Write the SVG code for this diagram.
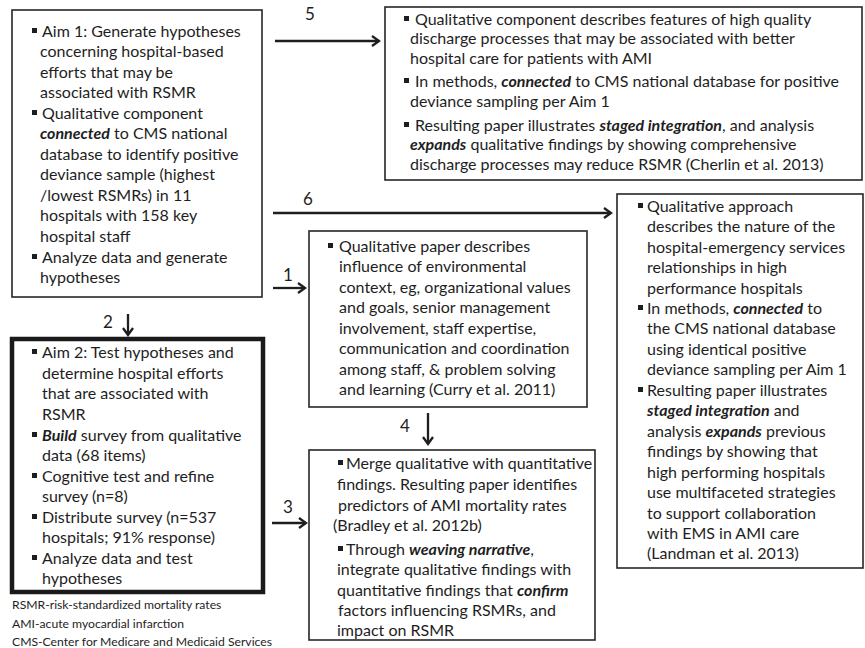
<svg xmlns="http://www.w3.org/2000/svg" width="865" height="648" viewBox="0 0 865 648">
<defs>
<style>
text{font-family:Lato,"Open Sans","Liberation Sans",sans-serif;font-size:16px;fill:#1e1e1e}
.fn{font-size:12.2px}
.lbl{font-size:17px}
.bi{font-weight:bold;font-style:italic}
.box{fill:#fff;stroke:#262626;stroke-width:1.6}
.thick{fill:#fff;stroke:#1a1a1a;stroke-width:4.5}
.b{fill:#1e1e1e}
.arr{fill:none;stroke:#1e1e1e;stroke-width:2.3;marker-end:url(#ah)}
</style>
<marker id="ah" markerUnits="userSpaceOnUse" markerWidth="14" markerHeight="14" refX="10" refY="7" orient="auto">
<path d="M3,2 L10,7 L3,12" fill="none" stroke="#1e1e1e" stroke-width="2.3"/>
</marker>
</defs>

<g id="connectors">
<line class="arr" x1="275" y1="41" x2="379" y2="41"/>
<text class="lbl" x="305" y="20">5</text>
<line class="arr" x1="273" y1="213" x2="611" y2="213"/>
<text class="lbl" x="303" y="205">6</text>
<line class="arr" x1="273" y1="288" x2="305" y2="288"/>
<text class="lbl" x="283" y="281">1</text>
<line class="arr" x1="128" y1="314" x2="128" y2="335"/>
<text class="lbl" x="103" y="328">2</text>
<line class="arr" x1="272" y1="523" x2="306" y2="523"/>
<text class="lbl" x="283" y="513">3</text>
<line class="arr" x1="428" y1="413" x2="428" y2="444"/>
<text class="lbl" x="400" y="432">4</text>
</g>

<g id="aim1">
<rect class="box" x="12" y="10" width="250" height="287"/>
<rect class="b" x="32" y="28" width="5" height="5"/>
<text x="42" y="37">Aim 1:  Generate hypotheses</text>
<text x="40" y="57">concerning hospital-based</text>
<text x="40" y="78">efforts that may be</text>
<text x="40" y="98">associated with RSMR</text>
<rect class="b" x="32" y="110" width="5" height="5"/>
<text x="42" y="119">Qualitative component</text>
<text x="40" y="139"><tspan class="bi">connected</tspan> to CMS national</text>
<text x="40" y="160">database to identify positive</text>
<text x="40" y="180">deviance sample (highest</text>
<text x="40" y="201">/lowest RSMRs) in 11</text>
<text x="40" y="221">hospitals with 158 key</text>
<text x="40" y="242">hospital staff</text>
<rect class="b" x="32" y="254" width="5" height="5"/>
<text x="42" y="263">Analyze data and generate</text>
<text x="40" y="283">hypotheses</text>
</g>

<g id="discharge">
<rect class="box" x="385" y="7" width="477" height="173"/>
<rect class="b" x="404" y="16" width="5" height="5"/>
<text x="415" y="25">Qualitative component describes features of high quality</text>
<text x="410" y="44">discharge processes that may be associated with better</text>
<text x="410" y="64">hospital care for patients with AMI</text>
<rect class="b" x="404" y="78" width="5" height="5"/>
<text x="415" y="87">In methods, <tspan class="bi">connected</tspan> to CMS national database for positive</text>
<text x="410" y="107">deviance sampling per Aim 1</text>
<rect class="b" x="404" y="122" width="5" height="5"/>
<text x="415" y="131">Resulting paper illustrates <tspan class="bi">staged integration</tspan>, and analysis</text>
<text x="410" y="150"><tspan class="bi">expands</tspan> qualitative findings by showing comprehensive</text>
<text x="410" y="170">discharge  processes may reduce RSMR (Cherlin et al. 2013)</text>
</g>

<g id="environment">
<rect class="box" x="309" y="231" width="278" height="176"/>
<rect class="b" x="328" y="243" width="5" height="5"/>
<text x="339" y="252">Qualitative paper describes</text>
<text x="339" y="272">influence of environmental</text>
<text x="339" y="293">context, eg, organizational values</text>
<text x="339" y="313">and goals, senior management</text>
<text x="339" y="334">involvement, staff expertise,</text>
<text x="339" y="354">communication and coordination</text>
<text x="339" y="375">among staff, &amp; problem solving</text>
<text x="339" y="395">and learning (Curry et al. 2011)</text>
</g>

<g id="ems">
<rect class="box" x="617" y="194" width="246" height="374"/>
<rect class="b" x="638" y="203" width="5" height="5"/>
<text x="647" y="212">Qualitative approach</text>
<text x="647" y="232">describes the nature of the</text>
<text x="647" y="253">hospital-emergency services</text>
<text x="647" y="273">relationships in high</text>
<text x="647" y="294">performance hospitals</text>
<rect class="b" x="638" y="305" width="5" height="5"/>
<text x="647" y="314">In methods, <tspan class="bi">connected</tspan> to</text>
<text x="647" y="334">the CMS national database</text>
<text x="647" y="355">using identical positive</text>
<text x="647" y="375">deviance sampling per Aim 1</text>
<rect class="b" x="638" y="387" width="5" height="5"/>
<text x="647" y="396">Resulting paper illustrates</text>
<text x="647" y="416"><tspan class="bi">staged integration</tspan> and</text>
<text x="647" y="437">analysis <tspan class="bi">expands</tspan> previous</text>
<text x="647" y="457">findings by showing that</text>
<text x="647" y="478">high performing hospitals</text>
<text x="647" y="498">use multifaceted strategies</text>
<text x="647" y="519">to support collaboration</text>
<text x="647" y="539">with EMS in AMI care</text>
<text x="647" y="559">(Landman et al. 2013)</text>
</g>

<g id="aim2">
<rect class="thick" x="12" y="339" width="251" height="253"/>
<rect class="b" x="32" y="349" width="5" height="5"/>
<text x="42" y="358">Aim 2: Test hypotheses and</text>
<text x="42" y="379">determine hospital efforts</text>
<text x="42" y="399">that are associated with</text>
<text x="42" y="420">RSMR</text>
<rect class="b" x="32" y="432" width="5" height="5"/>
<text x="42" y="441"><tspan class="bi">Build</tspan> survey from qualitative</text>
<text x="42" y="461">data (68 items)</text>
<rect class="b" x="32" y="473" width="5" height="5"/>
<text x="42" y="482">Cognitive test and refine</text>
<text x="42" y="502">survey (n=8)</text>
<rect class="b" x="32" y="514" width="5" height="5"/>
<text x="42" y="523">Distribute survey (n=537</text>
<text x="42" y="543">hospitals; 91% response)</text>
<rect class="b" x="32" y="555" width="5" height="5"/>
<text x="42" y="564">Analyze data and test</text>
<text x="42" y="584">hypotheses</text>
</g>

<g id="merge">
<rect class="box" x="309" y="450" width="286" height="190"/>
<rect class="b" x="338" y="460" width="5" height="5"/>
<text x="346" y="469">Merge qualitative with quantitative</text>
<text x="337" y="490">findings. Resulting paper identifies</text>
<text x="338" y="511">predictors of AMI mortality rates</text>
<text x="333" y="531">(Bradley et al. 2012b)</text>
<rect class="b" x="338" y="546" width="5" height="5"/>
<text x="346" y="555">Through <tspan class="bi">weaving narrative</tspan>,</text>
<text x="337" y="575">integrate qualitative findings with</text>
<text x="337" y="596">quantitative findings that <tspan class="bi">confirm</tspan></text>
<text x="338" y="616">factors influencing RSMRs, and</text>
<text x="337" y="636">impact on RSMR</text>
</g>

<g id="legend">
<text class="fn" x="12" y="609">RSMR-risk-standardized mortality rates</text>
<text class="fn" x="12" y="628">AMI-acute myocardial infarction</text>
<text class="fn" x="12" y="646">CMS-Center for Medicare and Medicaid Services</text>
</g>
</svg>
